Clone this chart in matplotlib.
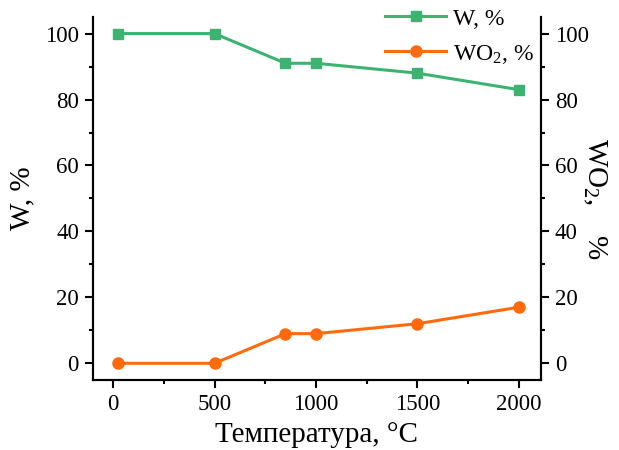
import matplotlib.pyplot as plt
from matplotlib.ticker import MultipleLocator

plt.rcParams.update({
    'font.family': ['Liberation Serif', 'DejaVu Serif'],
    'mathtext.fontset': 'custom',
    'mathtext.rm': 'Liberation Serif',
    'mathtext.it': 'Liberation Serif',
})

temperature = [25, 500, 850, 1000, 1500, 2000]
w_pct = [100, 100, 91, 91, 88, 83]
wo2_pct = [0, 0, 9, 9, 12, 17]

GREEN = '#3cb371'
ORANGE = '#ff6a0d'

fig = plt.figure(figsize=(6.19, 4.5), dpi=100)
ax = fig.add_axes([0.150, 0.156, 0.724, 0.806])
ax2 = ax.twinx()

l1, = ax.plot(temperature, w_pct, color=GREEN, lw=2.2, marker='s', ms=7, label='W, %')
l2, = ax2.plot(temperature, wo2_pct, color=ORANGE, lw=2.2, marker='o', ms=8, label='WO$_2$, %')

for a in (ax, ax2):
    a.set_xlim(-100, 2110)
    a.set_ylim(-5, 105)
    a.yaxis.set_major_locator(MultipleLocator(20))
    a.yaxis.set_minor_locator(MultipleLocator(10))
    a.spines['top'].set_visible(False)
    for s in a.spines.values():
        s.set_linewidth(1.5)

ax.xaxis.set_major_locator(MultipleLocator(500))
ax.xaxis.set_minor_locator(MultipleLocator(250))
for a in (ax, ax2):
    a.tick_params(which='major', direction='out', length=6, width=1.5, labelsize=16.5, pad=4)
    a.tick_params(which='minor', direction='out', length=3, width=1.5)

ax.set_xlabel('Температура, °C', fontsize=21, labelpad=5)
ax.set_ylabel('W, %', fontsize=21, labelpad=7)
ax2.set_ylabel('WO$_2$,    %', fontsize=21, rotation=270, labelpad=14)

ax2.legend([l1, l2], ['W, %', 'WO$_2$, %'], loc='upper right', frameon=False,
           fontsize=17, bbox_to_anchor=(0.985, 1.025), handlelength=2.6,
           handletextpad=0.3, labelspacing=0.55, borderaxespad=0, borderpad=0)

fig.savefig('out.png', dpi=100)
